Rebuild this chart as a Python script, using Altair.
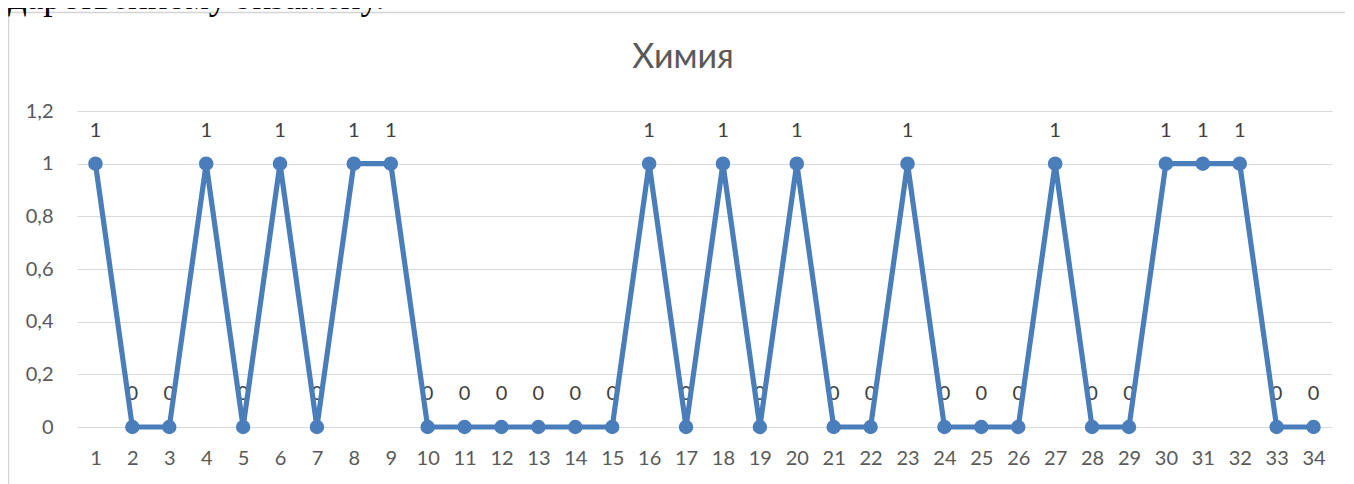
import altair as alt
import pandas as pd

categories = [str(i) for i in range(1, 35)]
values = [1, 0, 0, 1, 0, 1, 0, 1, 1, 0, 0, 0, 0, 0, 0, 1, 0, 1, 0, 1,
          0, 0, 1, 0, 0, 0, 1, 0, 0, 1, 1, 1, 0, 0]
y_ticks = [0, 0.2, 0.4, 0.6, 0.8, 1.0, 1.2]
title_text = "Химия"
page_text = "дарственному экзамену."

df = pd.DataFrame({"cat": categories, "val": values})
one = pd.DataFrame({"a": [0]})

FONT = "Lato"
BLUE = "#4A7EBB"
GRAY = "#595959"

x = alt.X("cat:N", sort=categories,
          scale=alt.Scale(type="point", padding=0.5),
          axis=alt.Axis(title=None, labelAngle=0, labelFontSize=20, labelColor=GRAY,
                        labelFont=FONT, ticks=False, domain=False, grid=False,
                        labelPadding=21))
y = alt.Y("val:Q", scale=alt.Scale(domain=[0, 1.2], nice=False, zero=True),
          axis=alt.Axis(title=None, values=y_ticks, labelFontSize=20, labelColor=GRAY,
                        labelFont=FONT, ticks=False, domain=False, grid=True,
                        gridColor="#d9d9d9", gridWidth=1, labelPadding=24,
                        labelExpr="replace(format(datum.value, '~g'), '.', ',')"))

base = alt.Chart(df)

labels = base.mark_text(font=FONT, fontSize=20, color="#404040", dy=-33,
                        baseline="middle").encode(x=x, y=y, text=alt.Text("val:Q"))

line = base.mark_line(color=BLUE, strokeWidth=5.2,
                      point=alt.OverlayMarkDef(filled=True, size=210, color=BLUE, opacity=1)
                      ).encode(x=x, y=y)

box = alt.Chart(one).mark_rect(fill="transparent", stroke="#d4d4d4", strokeWidth=1.5).encode(
    x=alt.value(-68.5), x2=alt.value(1300), y=alt.value(-98.5), y2=alt.value(450))

title = alt.Chart(one).mark_text(text=title_text, font=FONT, fontSize=34, color=GRAY,
                                 align="center", baseline="alphabetic").encode(
    x=alt.value(606), y=alt.value(-43))

top_text = alt.Chart(one).mark_text(text=page_text, font="Liberation Serif", fontSize=37,
                                    color="black", align="left",
                                    baseline="alphabetic").encode(
    x=alt.value(-69), y=alt.value(-102))

chart = alt.layer(box, top_text, title, labels, line).properties(
    width=1255, height=316,
    padding={"left": 69, "top": 103, "right": 13, "bottom": 57},
    autosize=alt.AutoSizeParams(type="none"),
    background="white",
).configure_view(strokeOpacity=0)

chart.save("out.html", embed_options={"renderer": "svg", "actions": False})
